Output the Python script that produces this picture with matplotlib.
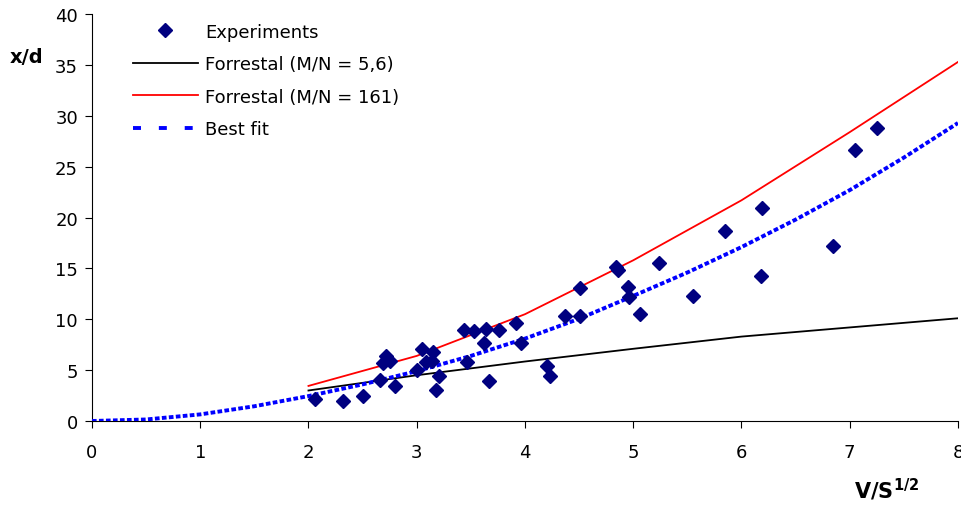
import numpy as np
import matplotlib.pyplot as plt
from matplotlib.lines import Line2D

plt.rcParams['font.family'] = ['DejaVu Sans']
plt.rcParams['mathtext.fontset'] = 'dejavusans'

# experimental points (V/S^1/2, x/d)
exp_x = [2.06, 2.32, 2.50, 2.66, 2.72, 2.69, 2.75, 2.80, 3.00, 3.05, 3.15, 3.09,
         3.14, 3.21, 3.18, 3.44, 3.53, 3.64, 3.76, 3.92, 3.62, 3.96, 3.46, 3.67,
         4.20, 4.23, 4.37, 4.51, 4.51, 4.84, 4.86, 5.24, 4.95, 4.96, 5.06, 5.55,
         5.85, 6.19, 6.18, 6.85, 7.05, 7.25]
exp_y = [2.16, 2.00, 2.43, 4.06, 6.42, 5.70, 5.93, 3.47, 5.04, 7.08, 6.80, 5.77,
         5.93, 4.45, 3.08, 8.97, 8.88, 9.04, 8.97, 9.63, 7.63, 7.63, 5.83, 3.96,
         5.44, 4.39, 10.29, 10.35, 13.07, 15.10, 14.80, 15.50, 13.14, 12.16, 10.50, 12.25,
         18.64, 20.93, 14.22, 17.23, 26.67, 28.77]

# Forrestal model curves
model_x = [2, 3, 4, 5, 6, 7, 8]
forr_56 = [3.0, 4.5, 5.85, 7.1, 8.3, 9.2, 10.1]
forr_161 = [3.45, 6.4, 10.5, 15.8, 21.7, 28.4, 35.3]

# best fit curve
fit_x = [0, 0.5, 1, 1.5, 2, 2.5, 3, 3.5, 4, 4.5, 5, 5.5, 6, 6.5, 7, 7.5, 8]
fit_y = [0, 0.15, 0.65, 1.45, 2.45, 3.6, 4.9, 6.4, 8.1, 10.05, 12.3, 14.6,
         17.1, 19.8, 22.7, 25.9, 29.3]

fig = plt.figure(figsize=(9.62, 5.06), dpi=100)
ax = fig.add_axes([0.0956, 0.166, 0.9002, 0.804])

h_exp, = ax.plot(exp_x, exp_y, linestyle='none', marker='D', markersize=6.8,
                 color='#000080', zorder=4)
h_56, = ax.plot(model_x, forr_56, color='black', lw=1.3)
h_161, = ax.plot(model_x, forr_161, color='#ff0000', lw=1.3)
ax.plot(fit_x, fit_y, color='#0000ff', lw=2.8, linestyle=(0, (1.2, 0.6)), zorder=3)
# legend shows longer dashes for the fit line
h_fit = Line2D([], [], color='#0000ff', lw=2.8, linestyle=(0, (2.05, 4.6)))

ax.set_xlim(0, 8)
ax.set_ylim(0, 40)
ax.set_xticks(range(0, 9))
ax.set_yticks(range(0, 41, 5))
ax.spines['top'].set_visible(False)
ax.spines['right'].set_visible(False)
ax.tick_params(direction='out', length=5, labelsize=13)
ax.tick_params(axis='x', pad=11)
ax.tick_params(axis='y', pad=5)

fig.text(0.010, 0.887, 'x/d', fontsize=14, fontweight='bold', va='center')
fig.text(0.888, 0.014, r'$\mathbf{V/S^{1/2}}$', fontsize=15, va='baseline')

ax.legend([h_exp, h_56, h_161, h_fit],
          ['Experiments', 'Forrestal (M/N = 5,6)', 'Forrestal (M/N = 161)', 'Best fit'],
          loc='upper left', bbox_to_anchor=(0.138, 0.953),
          bbox_transform=fig.transFigure, frameon=False, fontsize=13,
          handlelength=3.6, handletextpad=0.4, labelspacing=0.8,
          borderpad=0, borderaxespad=0)

fig.savefig('out.png')
